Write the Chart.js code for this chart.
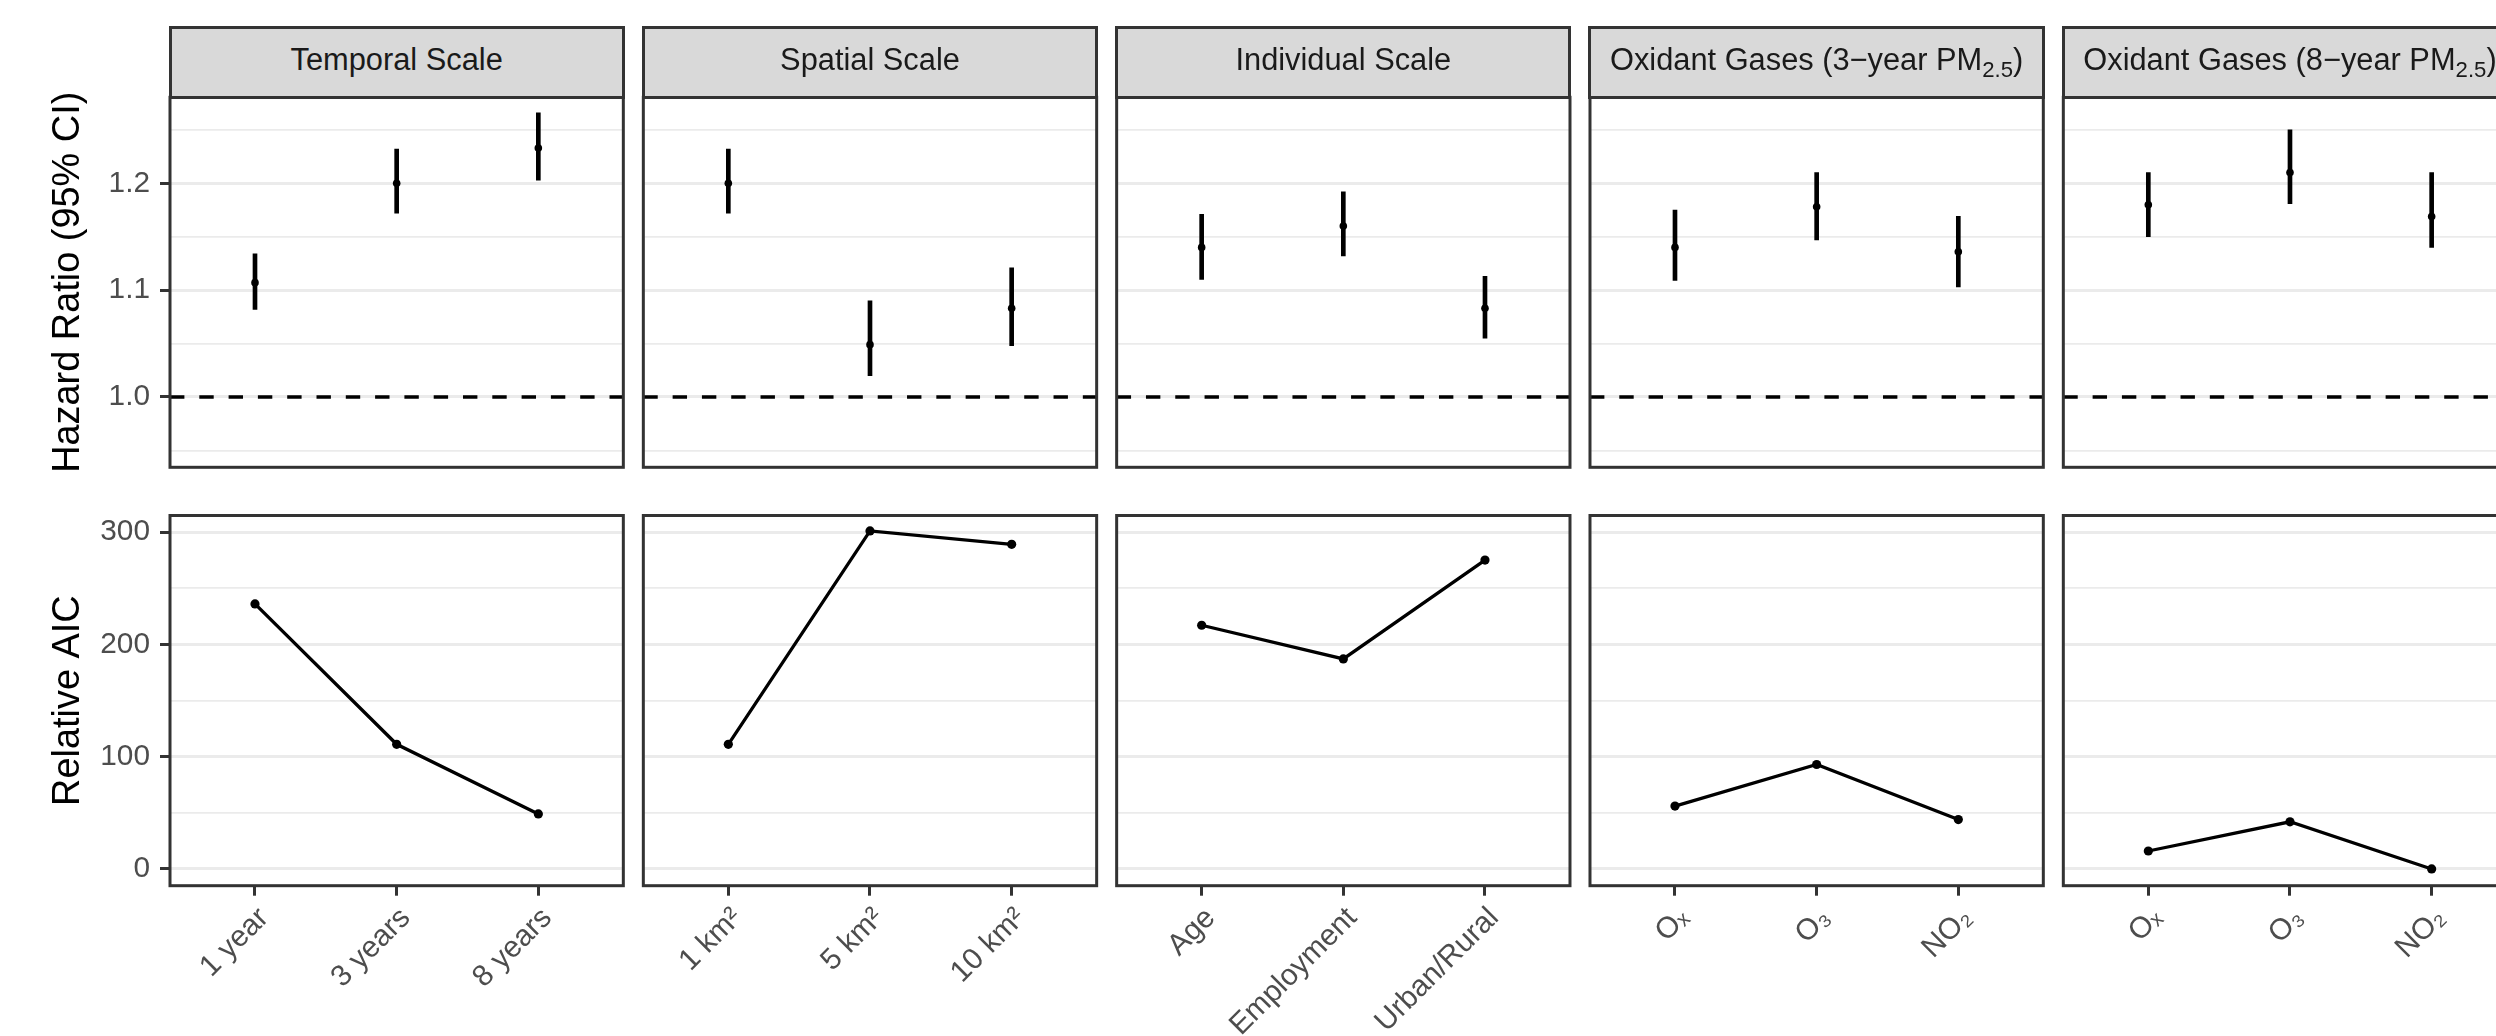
<!DOCTYPE html>
<html>
<head>
<meta charset="utf-8">
<script src="https://cdn.jsdelivr.net/npm/chart.js@4.4.1/dist/chart.umd.min.js"></script>
<style>
  html, body { margin: 0; padding: 0; background: #ffffff; overflow: hidden; width: 2496px; height: 1036px; }
  #root { position: relative; width: 2496px; height: 1036px; overflow: hidden; background: #ffffff; }
  #root canvas { position: absolute; left: 0; top: 0; }
  .strip {
    position: absolute; box-sizing: border-box; border: 3px solid #333333; background: #D9D9D9;
    color: #1A1A1A; font-family: "Liberation Sans", Arial, Helvetica, sans-serif; font-size: 30.8px;
    text-align: center; line-height: 62px; padding-bottom: 4.6px; white-space: nowrap; overflow: visible;
  }
  .strip .sub { font-size: 72%; position: relative; top: 0.32em; }
</style>
</head>
<body>
<div id="root"></div>
<script>
// ---------------- data ----------------
const facetTitles = ['Temporal Scale', 'Spatial Scale', 'Individual Scale', 'Oxidant Gases (3\u2212year PM', 'Oxidant Gases (8\u2212year PM'];
const facetSubscripts = ['', '', '', '2.5', '2.5'];
const facetSuffix = ['', '', '', ')', ')'];

const temporalCats = ['1 year', '3 years', '8 years'];
const spatialCats = ['1 km\u00B2', '5 km\u00B2', '10 km\u00B2'];
const individualCats = ['Age', 'Employment', 'Urban/Rural'];
const oxidantCats = ['O\u2093', 'O\u2083', 'NO\u2082'];

const temporalHR = [1.107, 1.200, 1.233];
const temporalLo = [1.082, 1.172, 1.203];
const temporalHi = [1.134, 1.232, 1.266];

const spatialHR = [1.200, 1.049, 1.083];
const spatialLo = [1.172, 1.020, 1.048];
const spatialHi = [1.232, 1.090, 1.121];

const individualHR = [1.140, 1.160, 1.083];
const individualLo = [1.110, 1.132, 1.055];
const individualHi = [1.171, 1.192, 1.113];

const ox3HR = [1.140, 1.178, 1.136];
const ox3Lo = [1.109, 1.147, 1.103];
const ox3Hi = [1.175, 1.210, 1.169];

const ox8HR = [1.180, 1.210, 1.169];
const ox8Lo = [1.150, 1.181, 1.140];
const ox8Hi = [1.210, 1.250, 1.210];

const temporalAIC = [236, 111, 49];
const spatialAIC = [111, 301, 289];
const individualAIC = [217, 187, 275];
const ox3AIC = [56, 93, 44];
const ox8AIC = [16, 42, 0];

const hrTicks = [1.0, 1.1, 1.2];
const hrMinorTicks = [0.95, 1.05, 1.15, 1.25];
const hrTickLabels = ['1.0', '1.1', '1.2'];
const aicTicks = [0, 100, 200, 300];
const aicMinorTicks = [50, 150, 250];
const aicTickLabels = ['0', '100', '200', '300'];
const refLine = 1.0;

const hrTitle = 'Hazard Ratio (95% CI)';
const aicTitle = 'Relative AIC';

// ---------------- layout / style ----------------
const FONT = '"Liberation Sans", Arial, Helvetica, sans-serif';
Chart.defaults.font.family = FONT;
const CW = 2560, CH = 1036;
const panelLeft0 = 170, panelStep = 473.33, panelW = 453.33;
const rowsGeom = [ {top: 97.3, bottom: 467.3, min: 0.9342, max: 1.2805},
                   {top: 515.5, bottom: 885.7, min: -14.9, max: 314.7} ];
const stripTop = 27.7;

const facets = [
  {cats: temporalCats, hr: temporalHR, lo: temporalLo, hi: temporalHi, aic: temporalAIC},
  {cats: spatialCats, hr: spatialHR, lo: spatialLo, hi: spatialHi, aic: spatialAIC},
  {cats: individualCats, hr: individualHR, lo: individualLo, hi: individualHi, aic: individualAIC},
  {cats: oxidantCats, hr: ox3HR, lo: ox3Lo, hi: ox3Hi, aic: ox3AIC},
  {cats: oxidantCats, hr: ox8HR, lo: ox8Lo, hi: ox8Hi, aic: ox8AIC}
];

const root = document.getElementById('root');

const panelPlugin = {
  id: 'panelFrame',
  beforeDatasetsDraw(chart, args, opts) {
    if (opts.ref === undefined || opts.ref === null) return;
    const {ctx, chartArea} = chart;
    const y = chart.scales.y.getPixelForValue(opts.ref);
    ctx.save();
    ctx.setLineDash([14.4, 14.9]);
    ctx.lineDashOffset = 0;
    ctx.lineWidth = 3.6;
    ctx.lineCap = 'butt';
    ctx.strokeStyle = '#000000';
    ctx.beginPath();
    ctx.moveTo(chartArea.left, y);
    ctx.lineTo(chartArea.right, y);
    ctx.stroke();
    ctx.restore();
  },
  afterDatasetsDraw(chart) {
    const {ctx, chartArea} = chart;
    ctx.save();
    ctx.lineWidth = 3;
    ctx.strokeStyle = '#333333';
    ctx.setLineDash([]);
    ctx.strokeRect(chartArea.left, chartArea.top, chartArea.right - chartArea.left, chartArea.bottom - chartArea.top);
    ctx.restore();
  }
};

function near(a, b) { return Math.abs(a - b) < 1e-9; }

function makePanel(col, row) {
  const f = facets[col];
  const g = rowsGeom[row];
  const isTop = row === 0;
  const L = panelLeft0 + col * panelStep;
  const R = L + panelW;
  const major = isTop ? hrTicks : aicTicks;
  const minor = isTop ? hrMinorTicks : aicMinorTicks;
  const majorLabels = isTop ? hrTickLabels : aicTickLabels;
  const allTicks = major.concat(minor).sort((a, b) => a - b);
  const isMajor = v => major.some(m => near(m, v));

  const canvas = document.createElement('canvas');
  canvas.width = CW; canvas.height = CH;
  canvas.style.width = CW + 'px'; canvas.style.height = CH + 'px';
  root.appendChild(canvas);

  let datasets;
  if (isTop) {
    datasets = [
      { type: 'bar', data: f.cats.map((c, i) => ({x: i, y: [f.lo[i], f.hi[i]]})),
        backgroundColor: '#000000', borderWidth: 0, barThickness: 4, grouped: false, order: 2 },
      { type: 'scatter', data: f.cats.map((c, i) => ({x: i, y: f.hr[i]})),
        pointRadius: 3.8, pointBackgroundColor: '#000000', pointBorderWidth: 0, showLine: false, order: 1 }
    ];
  } else {
    datasets = [
      { type: 'line', data: f.cats.map((c, i) => ({x: i, y: f.aic[i]})),
        borderColor: '#000000', borderWidth: 3.3, tension: 0, fill: false,
        pointRadius: 4.6, pointBackgroundColor: '#000000', pointBorderWidth: 0 }
    ];
  }

  new Chart(canvas, {
    type: isTop ? 'bar' : 'line',
    data: { datasets },
    plugins: [panelPlugin],
    options: {
      responsive: false, animation: false, devicePixelRatio: 1,
      layout: { padding: { left: 0, top: g.top, right: CW - R, bottom: isTop ? CH - g.bottom : 0 } },
      plugins: { legend: { display: false }, tooltip: { enabled: false }, title: { display: false },
                 panelFrame: { ref: isTop ? refLine : null } },
      scales: {
        x: {
          type: 'linear', min: -0.6, max: 2.6, bounds: 'data', offset: false, display: !isTop,
          afterBuildTicks: s => { s.ticks = f.cats.map((c, i) => ({value: i})); },
          afterFit: s => { s.height = isTop ? 0 : CH - g.bottom; },
          ticks: { autoSkip: false, maxRotation: 45, minRotation: 45, padding: 5, labelOffset: 9,
                   color: '#4D4D4D', font: { family: FONT, size: 29.8 },
                   callback: v => f.cats[Math.round(v)] },
          grid: { display: true, drawOnChartArea: false, drawTicks: true, tickLength: 10,
                  tickColor: '#333333', tickWidth: 3, offset: false },
          border: { display: false }
        },
        y: {
          type: 'linear', min: g.min, max: g.max, bounds: 'data',
          afterBuildTicks: s => { s.ticks = allTicks.map(v => ({value: v})); },
          afterFit: s => { s.width = L; },
          ticks: { display: col === 0, autoSkip: false, padding: 10, color: '#4D4D4D',
                   font: { family: FONT, size: 29.8 },
                   callback: v => { const i = major.findIndex(m => near(m, v)); return i >= 0 ? majorLabels[i] : ''; } },
          grid: { display: true, drawOnChartArea: true, drawTicks: col === 0, tickLength: 10,
                  color: '#EBEBEB',
                  lineWidth: ctx => (ctx.tick && isMajor(ctx.tick.value)) ? 3 : 1.7,
                  tickColor: ctx => (ctx.tick && isMajor(ctx.tick.value)) ? '#333333' : 'rgba(0,0,0,0)',
                  tickWidth: 3 },
          border: { display: false },
          title: { display: col === 0, text: isTop ? hrTitle : aicTitle, color: '#000000',
                   font: { family: FONT, size: 37.9 }, padding: { top: 45.5, bottom: 0 } }
        }
      }
    }
  });
}

for (let r = 0; r < 2; r++) for (let c = 0; c < 5; c++) makePanel(c, r);

// strips (facet labels)
for (let c = 0; c < 5; c++) {
  const L = panelLeft0 + c * panelStep;
  const d = document.createElement('div');
  d.className = 'strip';
  d.style.left = (L - 1.5) + 'px';
  d.style.top = (stripTop - 1.5) + 'px';
  d.style.width = (panelW + 3) + 'px';
  d.style.height = (rowsGeom[0].top - stripTop + 3) + 'px';
  d.appendChild(document.createTextNode(facetTitles[c]));
  if (facetSubscripts[c]) {
    const s = document.createElement('span');
    s.className = 'sub';
    s.textContent = facetSubscripts[c];
    d.appendChild(s);
    d.appendChild(document.createTextNode(facetSuffix[c]));
  }
  root.appendChild(d);
}
</script>
</body>
</html>
